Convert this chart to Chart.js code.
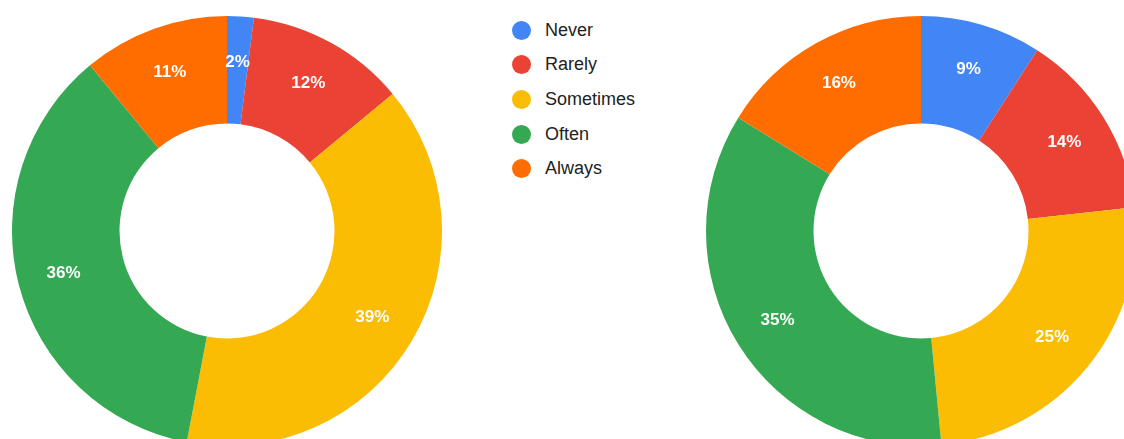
<!DOCTYPE html>
<html>
<head>
<meta charset="utf-8">
<script src="https://cdn.jsdelivr.net/npm/chart.js@4"></script>
<style>
  html, body { margin: 0; padding: 0; background: #fff; overflow: hidden; width: 1124px; height: 439px; }
  canvas { position: absolute; }
  #chartLeft { left: 12px; top: 16px; }
  #chartRight { left: 706px; top: 16px; }
  #legend { position: absolute; left: 512px; top: 13px; margin: 0; padding: 0; list-style: none;
    font-family: "Liberation Sans", Arial, sans-serif; font-size: 18px; color: #222; }
  #legend li { height: 34.6px; display: flex; align-items: center; }
  #legend .dot { width: 19px; height: 19px; border-radius: 50%; margin-right: 14px; }
</style>
</head>
<body>
<canvas id="chartLeft" width="430" height="430"></canvas>
<canvas id="chartRight" width="430" height="430"></canvas>
<ul id="legend"></ul>
<script>
const categories = ['Never', 'Rarely', 'Sometimes', 'Often', 'Always'];
const leftValues = [2, 12, 39, 36, 11];
const rightValues = [9, 14, 25, 35, 16];
const colors = ['#4285F4', '#EA4335', '#FBBC04', '#34A853', '#FF6D01'];

// white percent labels inside each slice
const sliceLabels = {
  id: 'sliceLabels',
  afterDatasetsDraw(chart) {
    const ctx = chart.ctx;
    const meta = chart.getDatasetMeta(0);
    const data = chart.data.datasets[0].data;
    ctx.save();
    ctx.font = 'bold 17px "Liberation Sans", Arial, sans-serif';
    ctx.fillStyle = '#fff';
    ctx.textAlign = 'center';
    ctx.textBaseline = 'middle';
    meta.data.forEach((arc, i) => {
      const p = arc.getProps(['x', 'y', 'startAngle', 'endAngle', 'innerRadius', 'outerRadius'], true);
      const mid = (p.startAngle + p.endAngle) / 2;
      const r = p.innerRadius + 0.57 * (p.outerRadius - p.innerRadius);
      ctx.fillText(data[i] + '%', p.x + Math.cos(mid) * r, p.y + Math.sin(mid) * r);
    });
    ctx.restore();
  }
};

function makeDoughnut(id, values) {
  const ctx = document.getElementById(id).getContext('2d');
  return new Chart(ctx, {
    type: 'doughnut',
    data: {
      labels: categories,
      datasets: [{
        data: values,
        backgroundColor: colors,
        borderWidth: 0,
        hoverOffset: 0
      }]
    },
    options: {
      responsive: false,
      animation: false,
      cutout: '50%',
      plugins: {
        legend: { display: false },
        tooltip: { enabled: false }
      }
    },
    plugins: [sliceLabels]
  });
}

makeDoughnut('chartLeft', leftValues);
makeDoughnut('chartRight', rightValues);

// legend in the middle
const legend = document.getElementById('legend');
categories.forEach((name, i) => {
  const li = document.createElement('li');
  const dot = document.createElement('span');
  dot.className = 'dot';
  dot.style.background = colors[i];
  li.appendChild(dot);
  li.appendChild(document.createTextNode(name));
  legend.appendChild(li);
});
</script>
</body>
</html>
